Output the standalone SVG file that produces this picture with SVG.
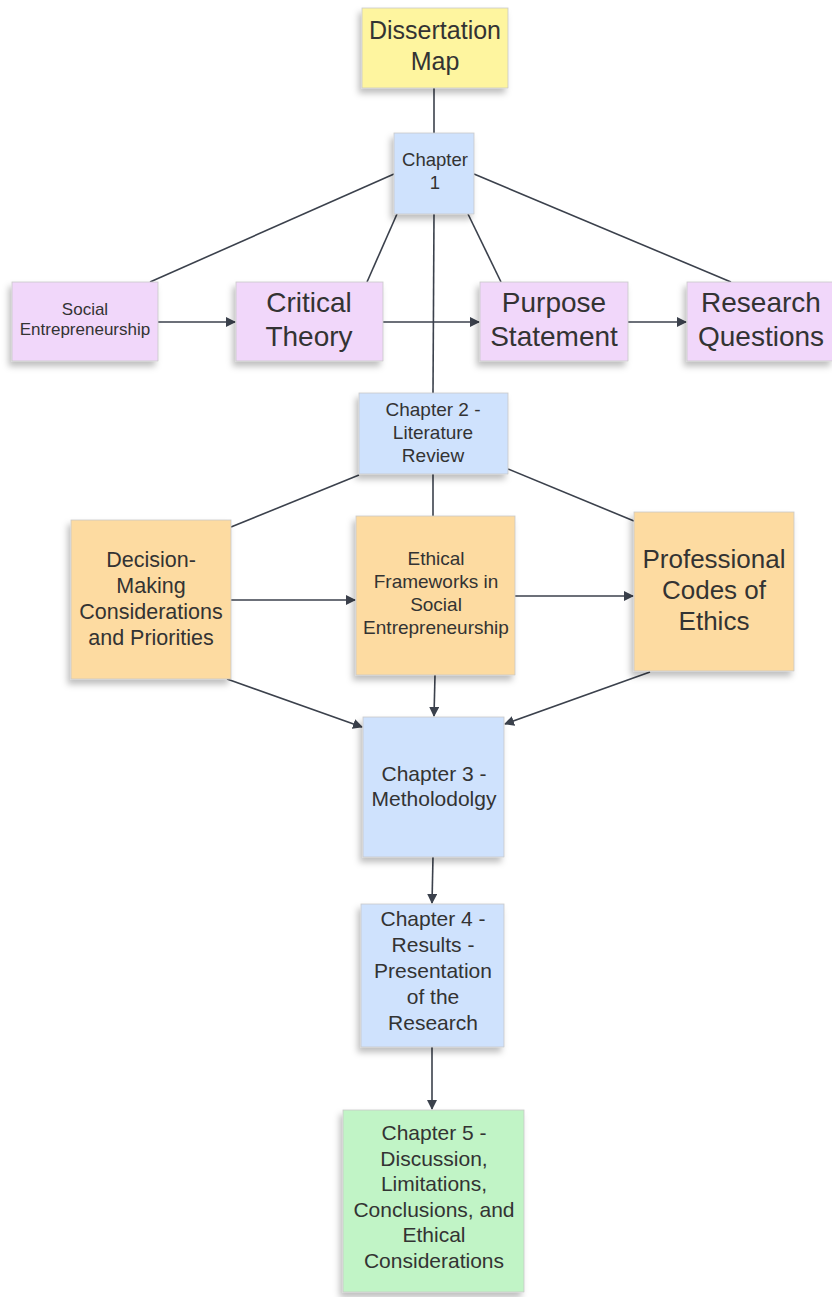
<svg xmlns="http://www.w3.org/2000/svg" width="832" height="1297" viewBox="0 0 832 1297">
<style>
  .note { stroke: #c9c9c9; stroke-width: 0.8; filter: url(#sh); }
  .yellow { fill: #fef59f; }
  .blue { fill: #cfe2fd; }
  .purple { fill: #f1d7fa; }
  .orange { fill: #fddba1; }
  .green { fill: #c1f4c6; }
  text { font-family: "Liberation Sans", Arial, sans-serif; fill: #333333; text-anchor: middle; }
  .c { stroke: #3b414c; stroke-width: 1.6; fill: none; }
  .a { marker-end: url(#arr); }
</style>
<defs>
  <filter id="sh" x="-20%" y="-20%" width="140%" height="150%">
    <feDropShadow dx="-3" dy="5" stdDeviation="3" flood-color="#000" flood-opacity="0.25"/>
  </filter>
  <marker id="arr" markerWidth="10" markerHeight="10" refX="9" refY="5" orient="auto" markerUnits="userSpaceOnUse">
    <path d="M0,0 L10,5 L0,10 Z" fill="#3b414c"/>
  </marker>
</defs>
<rect width="832" height="1297" fill="#ffffff"/>

<g id="connectors">
  <line class="c" x1="434" y1="88" x2="434" y2="133"/>
  <line class="c" x1="394" y1="174" x2="150" y2="282"/>
  <line class="c" x1="397" y1="214" x2="367" y2="282"/>
  <line class="c" x1="434" y1="214" x2="433" y2="393"/>
  <line class="c" x1="468" y1="214" x2="501" y2="282"/>
  <line class="c" x1="474" y1="174" x2="731" y2="282"/>
  <line class="c a" x1="158" y1="322" x2="235" y2="322"/>
  <line class="c a" x1="383" y1="322" x2="479" y2="322"/>
  <line class="c a" x1="628" y1="322" x2="686" y2="322"/>
  <line class="c" x1="359" y1="475" x2="231" y2="527"/>
  <line class="c" x1="433" y1="474" x2="433" y2="516"/>
  <line class="c" x1="508" y1="469" x2="634" y2="521"/>
  <line class="c a" x1="231" y1="600" x2="355" y2="600"/>
  <line class="c a" x1="515" y1="596" x2="633" y2="596"/>
  <line class="c a" x1="227" y1="679" x2="362" y2="727"/>
  <line class="c a" x1="435" y1="675" x2="434" y2="716"/>
  <line class="c a" x1="650" y1="672" x2="505" y2="724"/>
  <line class="c a" x1="433" y1="857" x2="432" y2="903"/>
  <line class="c a" x1="432" y1="1047" x2="432" y2="1109"/>
</g>

<g id="dissertation-map">
  <rect class="note yellow" x="362" y="8" width="146" height="80"/>
  <text font-size="25" x="435" y="39">Dissertation</text>
  <text font-size="25" x="435" y="70">Map</text>
</g>

<g id="chapter-1">
  <rect class="note blue" x="394" y="133" width="80" height="81"/>
  <text font-size="18.5" x="435" y="165.5">Chapter</text>
  <text font-size="18.5" x="435" y="188.5">1</text>
</g>

<g id="social-entrepreneurship">
  <rect class="note purple" x="12" y="282" width="146" height="79"/>
  <text font-size="17" x="85" y="315">Social</text>
  <text font-size="17" x="85" y="335">Entrepreneurship</text>
</g>

<g id="critical-theory">
  <rect class="note purple" x="236" y="282" width="147" height="79"/>
  <text font-size="28" x="309" y="312">Critical</text>
  <text font-size="28" x="309" y="346">Theory</text>
</g>

<g id="purpose-statement">
  <rect class="note purple" x="480" y="282" width="148" height="79"/>
  <text font-size="28" x="554" y="312">Purpose</text>
  <text font-size="28" x="554" y="346">Statement</text>
</g>

<g id="research-questions">
  <rect class="note purple" x="687" y="282" width="146" height="79"/>
  <text font-size="28" x="761" y="312">Research</text>
  <text font-size="28" x="761" y="346">Questions</text>
</g>

<g id="chapter-2">
  <rect class="note blue" x="359" y="393" width="149" height="81"/>
  <text font-size="19" x="433" y="416">Chapter 2 -</text>
  <text font-size="19" x="433" y="439">Literature</text>
  <text font-size="19" x="433" y="462">Review</text>
</g>

<g id="decision-making">
  <rect class="note orange" x="71" y="520" width="160" height="159"/>
  <text font-size="21.5" x="151" y="566.5">Decision-</text>
  <text font-size="21.5" x="151" y="592.5">Making</text>
  <text font-size="21.5" x="151" y="618.5">Considerations</text>
  <text font-size="21.5" x="151" y="644.5">and Priorities</text>
</g>

<g id="ethical-frameworks">
  <rect class="note orange" x="356" y="516" width="159" height="159"/>
  <text font-size="19" x="436" y="565">Ethical</text>
  <text font-size="19" x="436" y="588">Frameworks in</text>
  <text font-size="19" x="436" y="611">Social</text>
  <text font-size="19" x="436" y="634">Entrepreneurship</text>
</g>

<g id="professional-codes">
  <rect class="note orange" x="634" y="512" width="160" height="159"/>
  <text font-size="26" x="714" y="568">Professional</text>
  <text font-size="26" x="714" y="599">Codes of</text>
  <text font-size="26" x="714" y="630">Ethics</text>
</g>

<g id="chapter-3">
  <rect class="note blue" x="363" y="717" width="141" height="140"/>
  <text font-size="21" x="434" y="781">Chapter 3 -</text>
  <text font-size="21" x="434" y="806">Metholodolgy</text>
</g>

<g id="chapter-4">
  <rect class="note blue" x="361" y="904" width="143" height="143"/>
  <text font-size="21" x="433" y="926">Chapter 4 -</text>
  <text font-size="21" x="433" y="952">Results -</text>
  <text font-size="21" x="433" y="978">Presentation</text>
  <text font-size="21" x="433" y="1004">of the</text>
  <text font-size="21" x="433" y="1030">Research</text>
</g>

<g id="chapter-5">
  <rect class="note green" x="343" y="1110" width="181" height="182"/>
  <text font-size="21" x="434" y="1140">Chapter 5 -</text>
  <text font-size="21" x="434" y="1165.6">Discussion,</text>
  <text font-size="21" x="434" y="1191.2">Limitations,</text>
  <text font-size="21" x="434" y="1216.8">Conclusions, and</text>
  <text font-size="21" x="434" y="1242.4">Ethical</text>
  <text font-size="21" x="434" y="1268">Considerations</text>
</g>
</svg>
